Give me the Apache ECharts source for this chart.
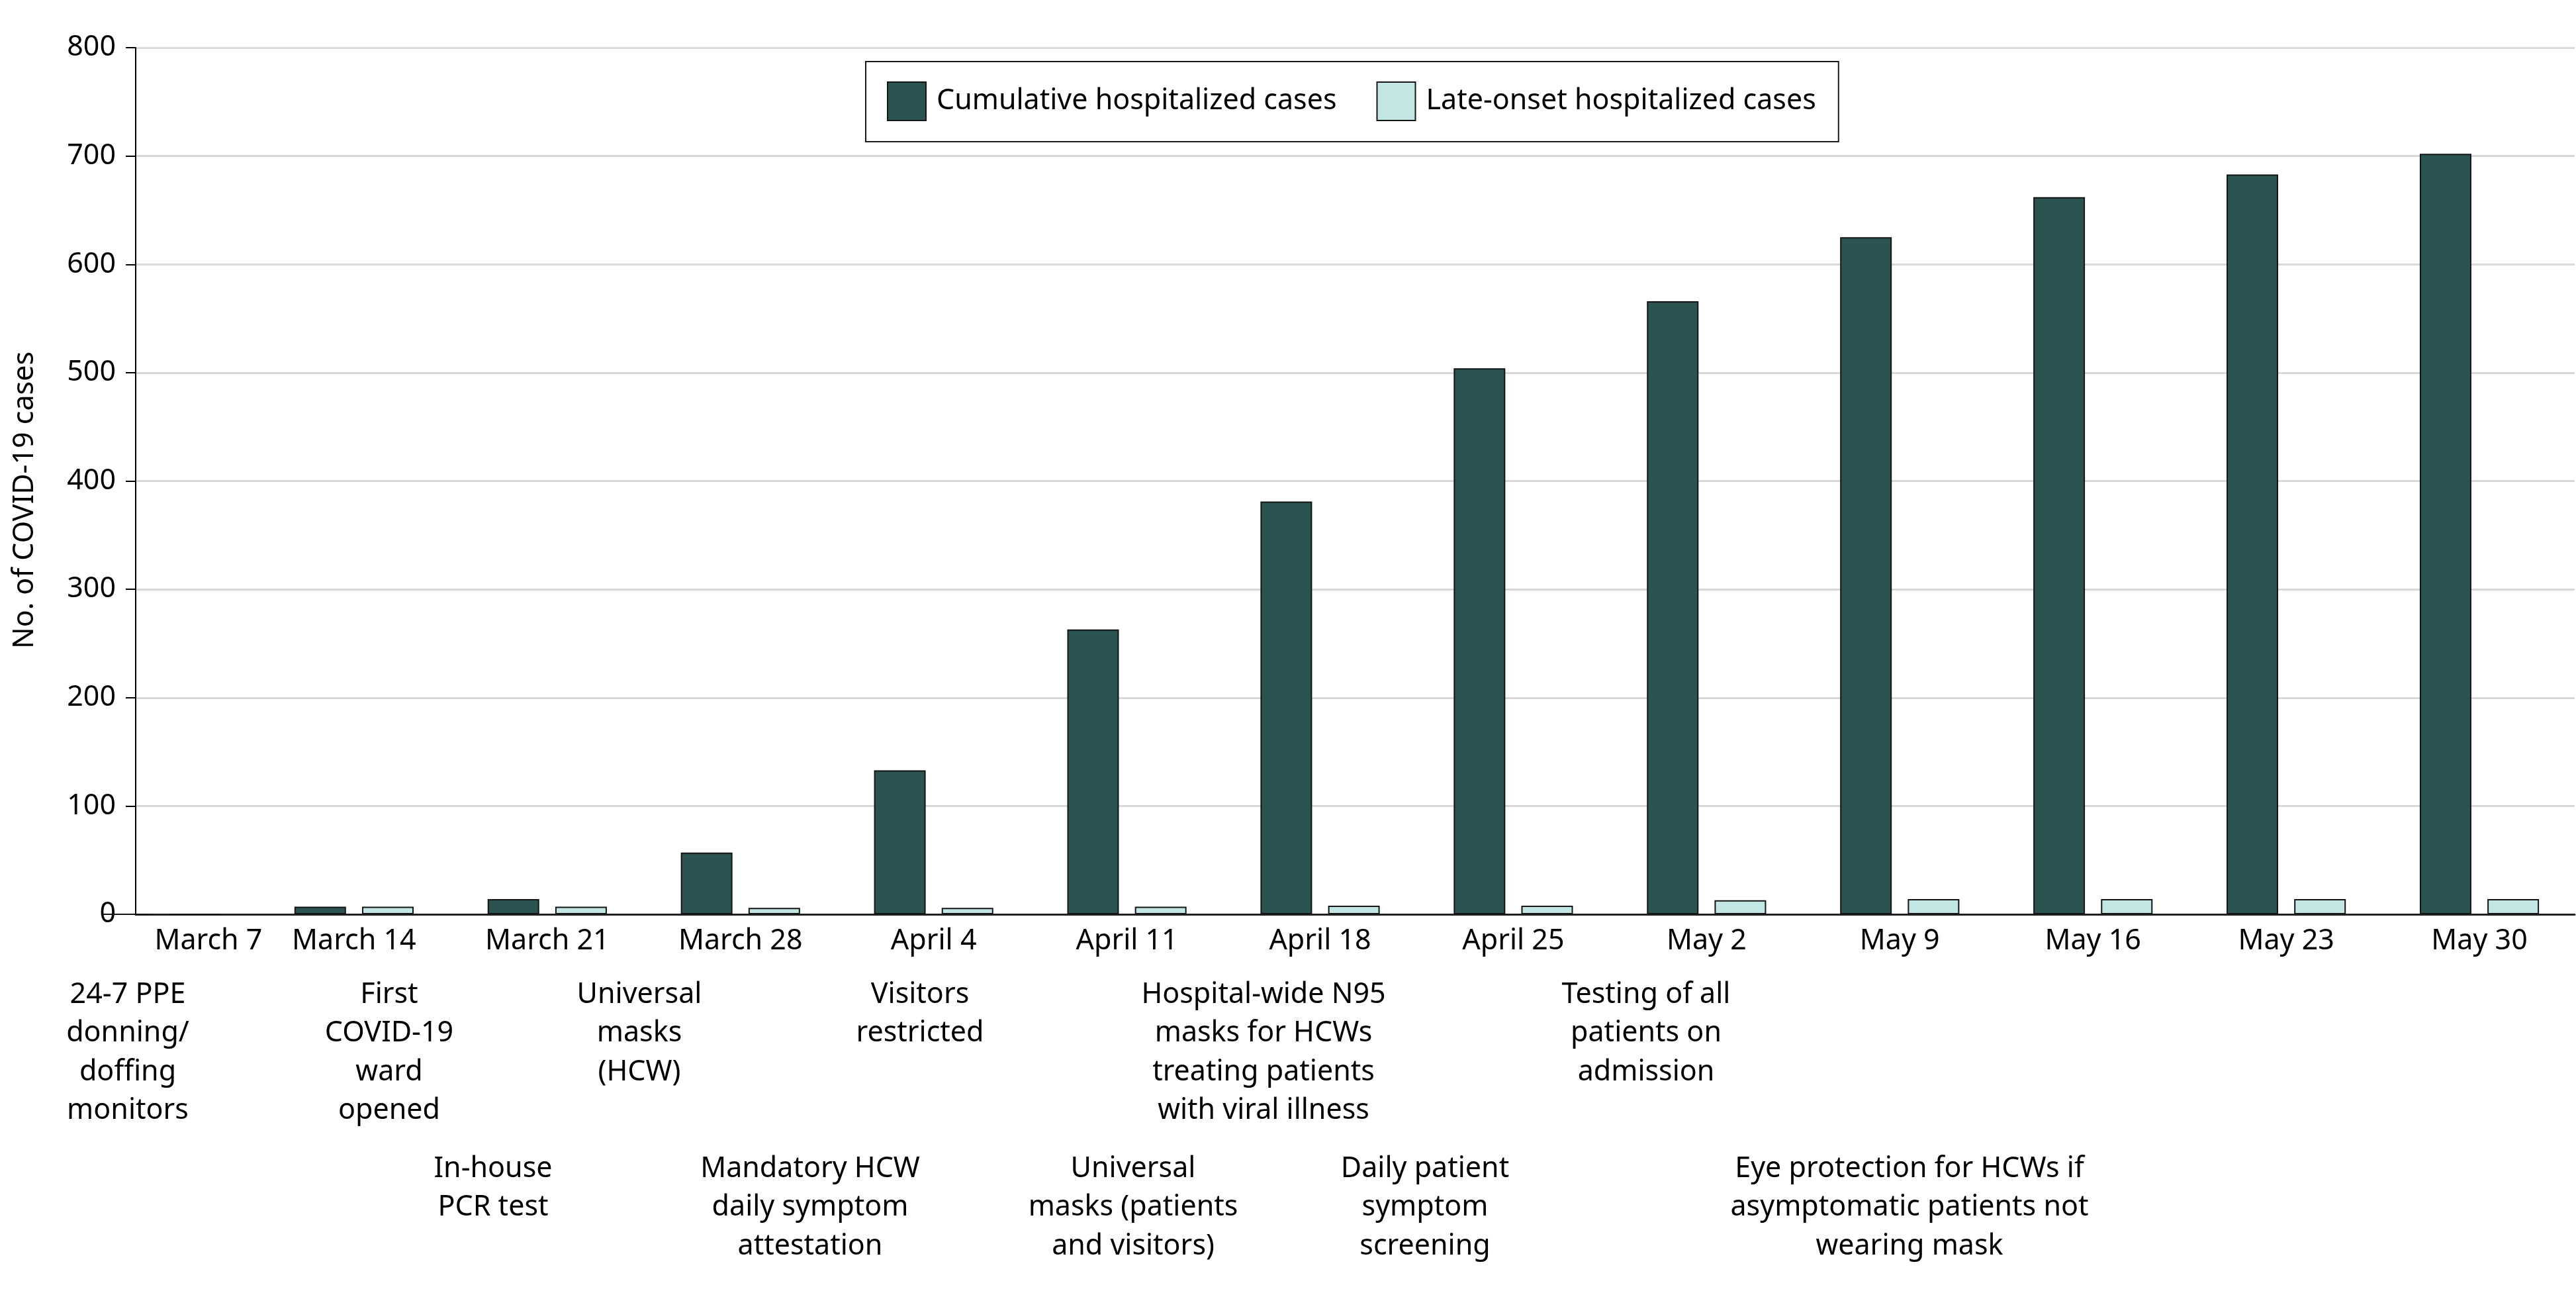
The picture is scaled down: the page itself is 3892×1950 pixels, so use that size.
<!DOCTYPE html>
<html>
<head>
<meta charset="utf-8">
<script src="https://cdn.jsdelivr.net/npm/echarts@6/dist/echarts.min.js"></script>
<style>
  html, body { margin: 0; padding: 0; background: #fff; }
  #chart { width: 3892px; height: 1950px; }
</style>
</head>
<body>
<div id="chart"></div>
<script>
const categories = ["March 7", "March 14", "March 21", "March 28", "April 4", "April 11", "April 18", "April 25", "May 2", "May 9", "May 16", "May 23", "May 30"];
const cumulativeCases = [0, 7, 14, 57, 133, 263, 381, 504, 566, 625, 662, 683, 702];
const lateOnsetCases = [0, 7, 7, 6, 6, 7, 8, 8, 13, 14, 14, 14, 14];
const seriesNames = ["Cumulative hospitalized cases", "Late-onset hospitalized cases"];
const yAxisTitle = "No. of COVID-19 cases";
const annotationTexts = [
  "24-7 PPE\ndonning/\ndoffing\nmonitors",
  "First\nCOVID-19\nward\nopened",
  "Universal\nmasks\n(HCW)",
  "Visitors\nrestricted",
  "Hospital-wide N95\nmasks for HCWs\ntreating patients\nwith viral illness",
  "Testing of all\npatients on\nadmission",
  "In-house\nPCR test",
  "Mandatory HCW\ndaily symptom\nattestation",
  "Universal\nmasks (patients\nand visitors)",
  "Daily patient\nsymptom\nscreening",
  "Eye protection for HCWs if\nasymptomatic patients not\nwearing mask"
];

// layout (pixel placement of the annotation blocks)
const annotationX = [193, 588, 966, 1390, 1909, 2487, 745, 1224, 1712, 2153, 2885];
const annotationRow = [0, 0, 0, 0, 0, 0, 1, 1, 1, 1, 1];
const rowTop = [1473, 1736];

const FONT = '"Noto Sans", "Open Sans", sans-serif';
const FS = 43;

const chart = echarts.init(document.getElementById('chart'), null, { renderer: 'canvas' });

const graphicTexts = annotationTexts.map((t, i) => ({
  type: 'text',
  x: annotationX[i],
  y: rowTop[annotationRow[i]],
  style: {
    text: t,
    fill: '#000',
    fontSize: FS,
    fontFamily: FONT,
    lineHeight: 58.5,
    align: 'center',
    verticalAlign: 'top'
  }
}));

const option = {
  animation: false,
  backgroundColor: '#fff',
  textStyle: { fontFamily: FONT },
  grid: [
    { left: 97, right: -11, top: 72, bottom: 569 },
    { left: 205, right: 2, top: 72, bottom: 569 }
  ],
  legend: {
    left: 1308,
    top: 93,
    orient: 'horizontal',
    backgroundColor: '#fff',
    borderColor: '#1a1a1a',
    borderWidth: 2,
    padding: [30, 34, 31, 32],
    itemWidth: 58,
    itemHeight: 58,
    itemGap: 60,
    icon: 'rect',
    itemStyle: { borderColor: '#151515', borderWidth: 2 },
    textStyle: { fontSize: FS, fontFamily: FONT, color: '#000', padding: [0, 0, 0, 11] },
    data: seriesNames
  },
  xAxis: [
    {
      type: 'category',
      gridIndex: 0,
      data: categories.map((c, i) => i === 0 ? { value: c, textStyle: { padding: [0, 0, 0, 144] } } : c),
      boundaryGap: true,
      axisLine: { show: false },
      axisTick: { show: false },
      axisLabel: { fontSize: FS, fontFamily: FONT, color: '#000', margin: 16, interval: 0, lineHeight: 50 },
      splitLine: { show: false }
    },
    {
      type: 'value',
      gridIndex: 1,
      min: 0, max: 1,
      axisLine: { show: true, onZero: false, lineStyle: { color: '#222', width: 3 } },
      axisTick: { show: false },
      axisLabel: { show: false },
      splitLine: { show: false }
    }
  ],
  yAxis: [
    {
      type: 'value',
      gridIndex: 0,
      min: 0, max: 800, interval: 100,
      show: false,
      splitLine: { show: false }
    },
    {
      type: 'value',
      gridIndex: 1,
      min: 0, max: 800, interval: 100,
      name: yAxisTitle,
      nameLocation: 'middle',
      nameGap: 146,
      nameRotate: 90,
      nameTextStyle: { fontSize: FS, fontFamily: FONT, color: '#000', padding: [0, 58, 0, 0] },
      axisLine: { show: true, lineStyle: { color: '#000', width: 2 } },
      axisTick: { show: true, length: 15, lineStyle: { color: '#000', width: 2 } },
      axisLabel: { fontSize: FS, fontFamily: FONT, color: '#000', margin: 30 },
      splitLine: { show: true, lineStyle: { color: '#d9d9d9', width: 3 } }
    }
  ],
  series: [
    {
      name: seriesNames[0],
      type: 'bar',
      xAxisIndex: 0, yAxisIndex: 0,
      data: cumulativeCases,
      barWidth: 78,
      barGap: '31%',
      itemStyle: { color: '#2B5352', borderColor: '#151515', borderWidth: 2 },
      z: 3
    },
    {
      name: seriesNames[1],
      type: 'bar',
      xAxisIndex: 0, yAxisIndex: 0,
      data: lateOnsetCases,
      barWidth: 78,
      barGap: '31%',
      itemStyle: { color: '#C1E6E4', borderColor: '#151515', borderWidth: 2 },
      z: 3
    }
  ],
  graphic: graphicTexts
};

chart.setOption(option);
</script>
</body>
</html>
